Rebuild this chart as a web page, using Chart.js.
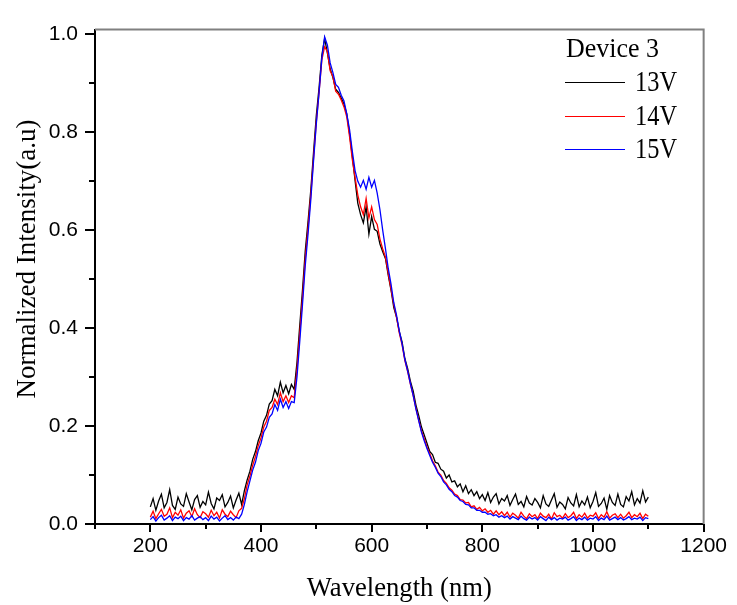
<!DOCTYPE html>
<html><head><meta charset="utf-8">
<script src="https://cdn.jsdelivr.net/npm/chart.js@4"></script>
<style>html,body{margin:0;padding:0;background:#fff}#wrap{width:737px;height:605px;position:relative}</style>
</head><body><div id="wrap"><canvas id="c" width="737" height="605"></canvas></div>
<script>
const wavelength = [
200,205,210,215,220,225,230,235,240,245,
250,255,260,265,270,275,280,285,290,295,
300,305,310,315,320,325,330,335,340,345,
350,355,360,365,370,375,380,385,390,395,
400,405,410,415,420,425,430,435,440,445,
450,455,460,465,470,475,480,485,490,495,
500,505,510,515,520,525,530,535,540,545,
550,555,560,565,570,575,580,585,590,595,
600,605,610,615,620,625,630,635,640,645,
650,655,660,665,670,675,680,685,690,695,
700,705,710,715,720,725,730,735,740,745,
750,755,760,765,770,775,780,785,790,795,
800,805,810,815,820,825,830,835,840,845,
850,855,860,865,870,875,880,885,890,895,
900,905,910,915,920,925,930,935,940,945,
950,955,960,965,970,975,980,985,990,995,
1000,1005,1010,1015,1020,1025,1030,1035,1040,1045,
1050,1055,1060,1065,1070,1075,1080,1085,1090,1095,
1100];
const v13 = [
0.035,0.052,0.028,0.047,0.061,0.033,0.044,0.070,0.038,0.030,
0.055,0.041,0.036,0.062,0.045,0.029,0.050,0.058,0.034,0.046,
0.039,0.065,0.042,0.031,0.053,0.048,0.060,0.035,0.044,0.057,
0.033,0.049,0.063,0.040,0.068,0.090,0.108,0.132,0.148,0.170,
0.186,0.210,0.222,0.245,0.252,0.275,0.262,0.290,0.268,0.283,
0.266,0.285,0.275,0.330,0.405,0.478,0.558,0.618,0.682,0.760,
0.835,0.892,0.958,0.992,0.962,0.930,0.912,0.888,0.882,0.870,
0.858,0.838,0.798,0.752,0.702,0.655,0.632,0.615,0.648,0.592,
0.628,0.602,0.598,0.572,0.556,0.542,0.508,0.478,0.442,0.422,
0.393,0.372,0.338,0.318,0.292,0.272,0.243,0.222,0.198,0.182,
0.165,0.148,0.142,0.126,0.124,0.112,0.108,0.094,0.100,0.086,
0.088,0.076,0.082,0.066,0.078,0.062,0.070,0.058,0.066,0.052,
0.060,0.048,0.064,0.044,0.055,0.062,0.041,0.052,0.047,0.058,
0.038,0.050,0.061,0.040,0.046,0.035,0.056,0.043,0.039,0.052,
0.044,0.033,0.058,0.041,0.036,0.049,0.062,0.034,0.045,0.040,
0.031,0.054,0.043,0.037,0.060,0.035,0.047,0.039,0.055,0.033,
0.046,0.064,0.036,0.042,0.053,0.030,0.058,0.044,0.038,0.061,
0.040,0.035,0.056,0.047,0.066,0.039,0.052,0.043,0.068,0.045,
0.055];
const v14 = [
0.014,0.026,0.011,0.021,0.030,0.016,0.020,0.033,0.013,0.024,
0.018,0.029,0.012,0.022,0.027,0.015,0.031,0.019,0.013,0.025,
0.021,0.014,0.028,0.017,0.024,0.012,0.029,0.020,0.015,0.026,
0.019,0.013,0.027,0.032,0.052,0.080,0.098,0.120,0.138,0.160,
0.176,0.198,0.210,0.232,0.238,0.255,0.244,0.268,0.250,0.262,
0.248,0.262,0.258,0.315,0.388,0.462,0.542,0.605,0.672,0.748,
0.822,0.882,0.948,0.975,0.965,0.926,0.914,0.884,0.878,0.866,
0.852,0.832,0.792,0.745,0.708,0.672,0.648,0.632,0.665,0.625,
0.648,0.622,0.612,0.582,0.562,0.545,0.512,0.480,0.448,0.422,
0.390,0.366,0.334,0.312,0.286,0.263,0.236,0.212,0.190,0.174,
0.157,0.144,0.129,0.119,0.106,0.100,0.089,0.083,0.074,0.069,
0.061,0.058,0.050,0.049,0.043,0.044,0.035,0.037,0.030,0.034,
0.027,0.031,0.024,0.028,0.020,0.027,0.019,0.025,0.017,0.024,
0.014,0.022,0.018,0.012,0.024,0.016,0.011,0.021,0.015,0.019,
0.011,0.022,0.016,0.013,0.020,0.010,0.023,0.015,0.018,0.012,
0.021,0.013,0.017,0.024,0.011,0.019,0.014,0.022,0.012,0.018,
0.016,0.023,0.011,0.019,0.014,0.025,0.012,0.018,0.021,0.013,
0.020,0.012,0.017,0.024,0.013,0.019,0.015,0.022,0.011,0.020,
0.016];
const v15 = [
0.009,0.015,0.006,0.013,0.018,0.008,0.012,0.017,0.007,0.014,
0.011,0.016,0.007,0.013,0.010,0.017,0.008,0.012,0.015,0.009,
0.013,0.007,0.016,0.010,0.014,0.006,0.012,0.017,0.009,0.013,
0.008,0.014,0.011,0.020,0.040,0.066,0.088,0.110,0.126,0.150,
0.165,0.188,0.198,0.218,0.225,0.244,0.232,0.255,0.238,0.250,
0.236,0.250,0.248,0.300,0.372,0.448,0.528,0.592,0.662,0.742,
0.818,0.882,0.952,0.995,0.978,0.942,0.922,0.898,0.892,0.876,
0.864,0.838,0.806,0.762,0.722,0.700,0.688,0.702,0.684,0.708,
0.688,0.702,0.676,0.642,0.600,0.562,0.522,0.490,0.452,0.426,
0.394,0.368,0.336,0.313,0.287,0.263,0.235,0.211,0.188,0.170,
0.154,0.140,0.126,0.116,0.104,0.097,0.086,0.080,0.071,0.066,
0.058,0.055,0.048,0.046,0.040,0.039,0.033,0.033,0.028,0.028,
0.024,0.024,0.020,0.021,0.017,0.019,0.014,0.017,0.013,0.016,
0.010,0.015,0.012,0.009,0.016,0.011,0.008,0.014,0.010,0.013,
0.008,0.015,0.011,0.007,0.014,0.009,0.013,0.008,0.012,0.010,
0.014,0.008,0.011,0.015,0.007,0.012,0.009,0.014,0.008,0.012,
0.010,0.015,0.007,0.012,0.009,0.016,0.008,0.011,0.014,0.009,
0.013,0.008,0.011,0.015,0.009,0.012,0.010,0.014,0.007,0.013,
0.011];
const seriesNames = ['13V','14V','15V'];
const seriesColors = ['#000000','#ff0000','#0000ff'];
const legendTitle = 'Device 3';
const xTitle = 'Wavelength (nm)';
const yTitle = 'Normalized Intensity(a.u)';
const xTicks = [200,400,600,800,1000,1200];
const xMinorTicks = [100,300,500,700,900,1100];
const yTicks = [0,0.2,0.4,0.6,0.8,1.0];
const yMinorTicks = [0.1,0.3,0.5,0.7,0.9];

const seriesValues = [v13, v14, v15];
const datasets = seriesValues.map((vals, k) => ({
  label: seriesNames[k],
  data: wavelength.map((w, i) => ({x: w, y: vals[i]})),
  borderColor: seriesColors[k],
  borderWidth: 1.3,
  pointRadius: 0,
  fill: false,
  tension: 0,
  order: 2 - k
}));

function fitText(ctx, text, x, y, font, width, align) {
  ctx.font = font;
  const w = ctx.measureText(text).width;
  const s = width ? width / w : 1;
  ctx.save();
  ctx.translate(x, y);
  ctx.scale(s, 1);
  ctx.textAlign = align || 'left';
  ctx.fillText(text, 0, 0);
  ctx.restore();
}

const decor = {
  id: 'decor',
  afterDraw(chart) {
    const {ctx, chartArea: a, scales: {x, y}} = chart;
    ctx.save();
    ctx.strokeStyle = '#808080';
    ctx.lineWidth = 2;
    ctx.beginPath();
    ctx.moveTo(a.left, a.top); ctx.lineTo(a.right, a.top); ctx.lineTo(a.right, a.bottom);
    ctx.stroke();
    ctx.strokeStyle = '#000';
    ctx.lineWidth = 2;
    ctx.beginPath();
    xTicks.forEach(v => { const p = Math.round(x.getPixelForValue(v)); ctx.moveTo(p, a.bottom); ctx.lineTo(p, a.bottom + 8); });
    xMinorTicks.forEach(v => { const p = Math.round(x.getPixelForValue(v)); ctx.moveTo(p, a.bottom); ctx.lineTo(p, a.bottom + 5); });
    yTicks.forEach(v => { const p = Math.round(y.getPixelForValue(v)); ctx.moveTo(a.left, p); ctx.lineTo(a.left - 10, p); });
    yMinorTicks.forEach(v => { const p = Math.round(y.getPixelForValue(v)); ctx.moveTo(a.left, p); ctx.lineTo(a.left - 6, p); });
    ctx.stroke();
    ctx.fillStyle = '#000';
    ctx.textBaseline = 'alphabetic';
    fitText(ctx, xTitle, (a.left + a.right) / 2, 596, '28px "Liberation Serif"', 185, 'center');
    ctx.save();
    ctx.translate(35, 259);
    ctx.rotate(-Math.PI / 2);
    ctx.font = '27px "Liberation Serif"';
    ctx.textAlign = 'center';
    ctx.fillText(yTitle, 0, 0);
    ctx.restore();
    fitText(ctx, legendTitle, 566, 57, '28px "Liberation Serif"', 93, 'left');
    const lineY = [82, 116, 149];
    const textY = [91, 124.5, 158];
    seriesNames.forEach((n, k) => {
      ctx.strokeStyle = seriesColors[k];
      ctx.lineWidth = 1;
      ctx.beginPath();
      ctx.moveTo(565, lineY[k] + 0.5); ctx.lineTo(625, lineY[k] + 0.5);
      ctx.stroke();
      ctx.fillStyle = '#000';
      fitText(ctx, n, 635, textY[k], '30px "Liberation Serif"', 42, 'left');
    });
    ctx.restore();
  }
};

new Chart(document.getElementById('c'), {
  type: 'line',
  data: { datasets },
  options: {
    responsive: false,
    animation: false,
    devicePixelRatio: 1,
    layout: { padding: { left: 0, right: 25, top: 19, bottom: 0 } },
    plugins: { legend: { display: false }, tooltip: { enabled: false } },
    scales: {
      x: {
        type: 'linear', min: 100, max: 1200,
        afterBuildTicks: s => { s.ticks = xTicks.map(v => ({value: v})); },
        afterFit: s => { s.height = 81; },
        grid: { display: false, drawTicks: false },
        border: { display: true, color: '#000', width: 2 },
        ticks: { color: '#000', font: { family: 'Liberation Sans', size: 21 }, padding: 10, maxRotation: 0, autoSkip: false, callback: v => String(v) }
      },
      y: {
        type: 'linear', min: 0, max: 1.01,
        afterBuildTicks: s => { s.ticks = yTicks.map(v => ({value: v})); },
        afterFit: s => { s.width = 95; },
        grid: { display: false, drawTicks: false },
        border: { display: true, color: '#000', width: 2 },
        ticks: { color: '#000', font: { family: 'Liberation Sans', size: 21 }, padding: 17, callback: v => v.toFixed(1) }
      }
    }
  },
  plugins: [decor]
});
</script>
</body></html>
